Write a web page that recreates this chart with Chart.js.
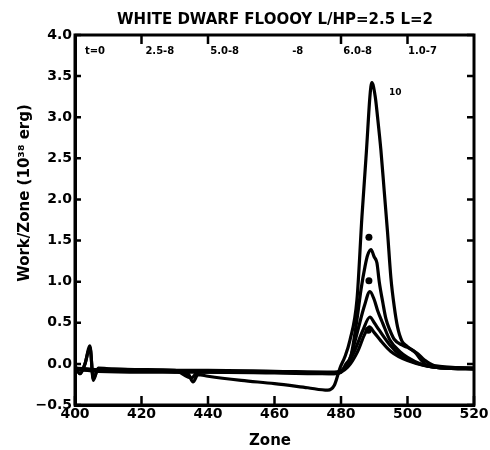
<!DOCTYPE html>
<html>
<head>
<meta charset="utf-8">
<script src="https://cdn.jsdelivr.net/npm/chart.js@4.4.1/dist/chart.umd.min.js"></script>
<style>
  html, body { margin: 0; padding: 0; background: #fff; }
  #wrap { width: 490px; height: 450px; }
</style>
</head>
<body>
<div id="wrap"><canvas id="myChart" width="490" height="450"></canvas></div>
<script>
// curve 10 (largest peak)
const zonesA = [400, 401.5, 403, 404.5, 405.5, 407, 410, 420, 430, 434, 435.5, 437, 440, 450, 460, 470, 476, 478, 479.7, 481.2, 482.7, 484.8, 486.3, 487.5, 489.3, 490.3, 491, 492, 493, 494, 495, 496, 497, 498.3, 500, 502.3, 504, 506, 510, 520];
const workA  = [-0.02, -0.12, 0.0, 0.22, -0.2, -0.05, -0.06, -0.07, -0.1, -0.12, -0.22, -0.13, -0.15, -0.2, -0.24, -0.29, -0.32, -0.26, -0.05, 0.09, 0.29, 0.78, 1.79, 2.5, 3.42, 3.25, 3.0, 2.6, 2.1, 1.6, 1.05, 0.7, 0.45, 0.28, 0.21, 0.14, 0.05, -0.02, -0.04, -0.05];
// second curve
const zonesB = [400, 401.5, 403, 404.5, 405.5, 407, 420, 430, 435, 437, 440, 460, 478, 480, 481.5, 483, 484.8, 486, 487.2, 488, 489, 490, 490.8, 491.5, 492.6, 493.5, 494.7, 496, 498.3, 500, 502.9, 505, 508, 520];
const workB  = [-0.03, -0.12, 0.0, 0.2, -0.18, -0.06, -0.07, -0.08, -0.17, -0.1, -0.1, -0.1, -0.12, -0.1, 0.0, 0.1, 0.54, 0.9, 1.18, 1.32, 1.39, 1.3, 1.23, 1.0, 0.74, 0.55, 0.41, 0.3, 0.23, 0.2, 0.13, 0.05, -0.02, -0.05];
// third curve
const zonesC = [400, 407, 420, 440, 460, 478, 481, 483, 485, 487, 488.7, 490, 491, 492.5, 494.7, 497.7, 500, 504, 510, 520];
const workC  = [-0.05, -0.07, -0.08, -0.08, -0.09, -0.1, -0.05, 0.1, 0.4, 0.7, 0.88, 0.78, 0.65, 0.5, 0.29, 0.15, 0.08, 0.0, -0.05, -0.06];
// fourth curve
const zonesD = [400, 407, 420, 440, 460, 478, 481, 484, 486.5, 488.7, 490, 491.5, 494.7, 498, 502, 510, 520];
const workD  = [-0.06, -0.08, -0.09, -0.09, -0.1, -0.11, -0.06, 0.15, 0.4, 0.57, 0.5, 0.41, 0.23, 0.1, 0.02, -0.05, -0.06];
// fifth curve
const zonesE = [400, 407, 420, 440, 460, 478, 482, 485, 487, 488.5, 490, 492, 495, 500, 510, 520];
const workE  = [-0.07, -0.09, -0.1, -0.1, -0.11, -0.12, -0.04, 0.15, 0.35, 0.45, 0.38, 0.28, 0.15, 0.04, -0.05, -0.06];

// curve label dots
const labelZones = [488.4, 488.4, 488.2];
const labelWork  = [1.54, 1.01, 0.41];
const bigLabel = { zone: 496.3, work: 3.3, text: '10' };

// top-axis time labels
const topTickZones = [420, 440, 480, 500];
const topLabelZones = [406, 425.5, 445, 467, 485, 504.5];
const topLabels = ['t=0', '2.5-8', '5.0-8', '-8', '6.0-8', '1.0-7'];

const titleText = 'WHITE DWARF FLOOOY L/HP=2.5 L=2';
const xTitle = 'Zone';
const yTitle = 'Work/Zone (10\u00B3\u2078 erg)';

const FONT = 'DejaVu Sans';

function pts(xs, ys) {
    return xs.map((x, i) => ({ x: x, y: ys[i] }));
}

function curve(xs, ys) {
    return {
        data: pts(xs, ys),
        showLine: true,
        borderColor: '#000',
        borderWidth: 3.2,
        pointRadius: 0,
        cubicInterpolationMode: 'monotone',
        fill: false
    };
}

const decor = {
    id: 'decor',
    afterDraw(chart) {
        const ctx = chart.ctx;
        const a = chart.chartArea;
        const xs = chart.scales.x, ys = chart.scales.y;
        ctx.save();
        ctx.strokeStyle = '#000';
        ctx.fillStyle = '#000';
        // frame
        ctx.lineWidth = 3;
        ctx.strokeRect(a.left, a.top, a.right - a.left, a.bottom - a.top);
        // inward ticks
        ctx.lineWidth = 2.5;
        ctx.beginPath();
        xs.ticks.forEach(t => {
            const px = xs.getPixelForValue(t.value);
            ctx.moveTo(px, a.bottom); ctx.lineTo(px, a.bottom - 9);
        });
        ys.ticks.forEach(t => {
            const py = ys.getPixelForValue(t.value);
            ctx.moveTo(a.left, py); ctx.lineTo(a.left + 6, py);
            ctx.moveTo(a.right, py); ctx.lineTo(a.right - 7, py);
        });
        topTickZones.forEach(z => {
            const px = xs.getPixelForValue(z);
            ctx.moveTo(px, a.top); ctx.lineTo(px, a.top + 9);
        });
        ctx.stroke();
        // top labels
        ctx.font = 'bold 10px ' + FONT;
        ctx.textAlign = 'center';
        ctx.textBaseline = 'middle';
        topLabelZones.forEach((z, i) => {
            ctx.fillText(topLabels[i], xs.getPixelForValue(z), a.top + 16);
        });
        // curve labels
        labelZones.forEach((z, i) => {
            ctx.beginPath();
            ctx.arc(xs.getPixelForValue(z), ys.getPixelForValue(labelWork[i]), 3.5, 0, Math.PI * 2);
            ctx.fill();
        });
        ctx.font = 'bold 9px ' + FONT;
        ctx.fillText(bigLabel.text, xs.getPixelForValue(bigLabel.zone), ys.getPixelForValue(bigLabel.work));
        // titles
        ctx.font = 'bold 15px ' + FONT;
        ctx.fillText(titleText, 275, 20);
        ctx.fillText(xTitle, 270, 441);
        ctx.translate(25, 193);
        ctx.rotate(-Math.PI / 2);
        ctx.fillText(yTitle, 0, 0);
        ctx.restore();
    }
};

new Chart(document.getElementById('myChart').getContext('2d'), {
    type: 'scatter',
    data: {
        datasets: [
            curve(zonesA, workA),
            curve(zonesB, workB),
            curve(zonesC, workC),
            curve(zonesD, workD),
            curve(zonesE, workE)
        ]
    },
    options: {
        responsive: false,
        animation: false,
        layout: { padding: { left: 0, right: 16, top: 35, bottom: 0 } },
        plugins: {
            legend: { display: false },
            tooltip: { enabled: false }
        },
        scales: {
            x: {
                type: 'linear',
                min: 400,
                max: 520,
                afterFit: s => { s.height = 45; },
                ticks: {
                    stepSize: 20,
                    padding: 1,
                    color: '#000',
                    font: { family: FONT, size: 14, weight: 'bold' },
                    maxRotation: 0
                },
                grid: { drawOnChartArea: false, drawTicks: false },
                border: { color: '#000', width: 3 }
            },
            y: {
                min: -0.5,
                max: 4.0,
                afterFit: s => { s.width = 75; },
                ticks: {
                    stepSize: 0.5,
                    padding: 3,
                    color: '#000',
                    font: { family: FONT, size: 14, weight: 'bold' },
                    callback: v => (v < 0 ? '\u2212' + Math.abs(v).toFixed(1) : v.toFixed(1))
                },
                grid: { drawOnChartArea: false, drawTicks: false },
                border: { color: '#000', width: 3 }
            }
        }
    },
    plugins: [decor]
});
</script>
</body>
</html>
